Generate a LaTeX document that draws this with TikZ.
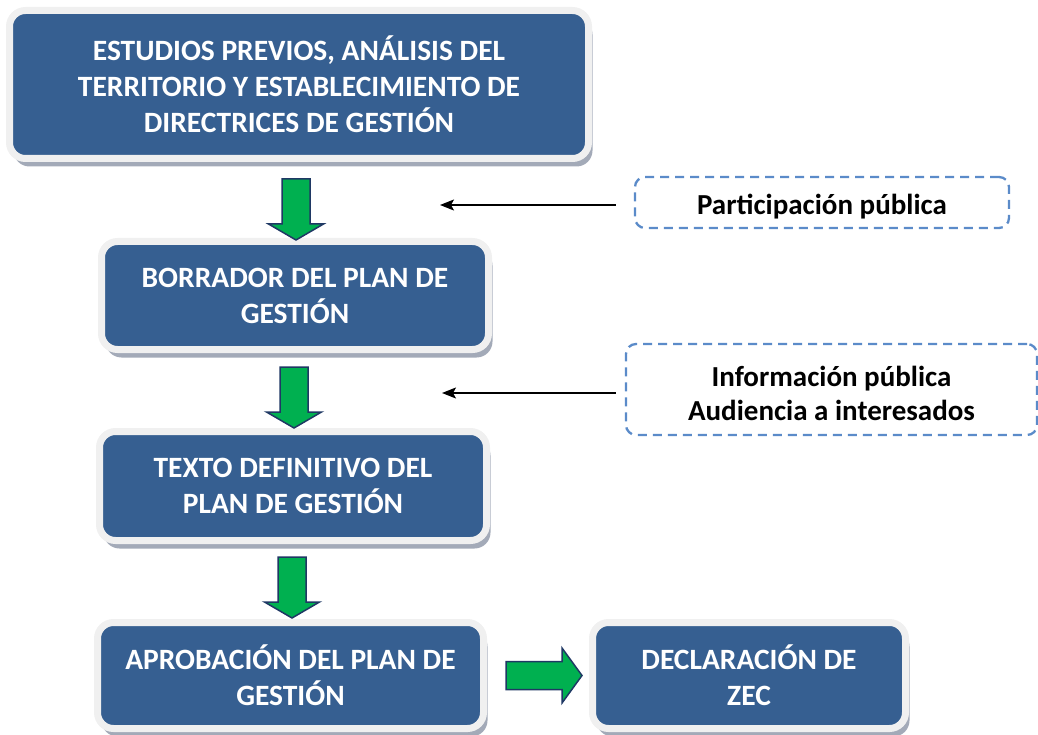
\documentclass[tikz,border=0pt]{standalone}
\usepackage{fontspec}
\setmainfont{Carlito}
\usetikzlibrary{shadows,arrows.meta}
\definecolor{boxblue}{HTML}{365F91}
\definecolor{framegray}{HTML}{F0F0F0}
\definecolor{shadowgray}{HTML}{A3AAB8}
\definecolor{arrowgreen}{HTML}{00B050}
\definecolor{arrowedge}{HTML}{1F3864}
\definecolor{dashblue}{HTML}{5B8BC9}
\newcommand\greendown[3]{% name, center x, top y
  \draw[greenarrow] (#2-14,#3) -- (#2+14,#3) -- (#2+14,#3+45) -- (#2+27.5,#3+45)
     -- (#2,#3+61) -- (#2-27.5,#3+45) -- (#2-14,#3+45) -- cycle;}
\begin{document}
\begin{tikzpicture}[x=1pt,y=-1pt,
  stagebox/.style={draw=framegray, line width=7pt, fill=boxblue, rounded corners=16pt,
    text=white, font=\bfseries\fontsize{29.5}{36}\selectfont, align=center, inner sep=0pt,
    drop shadow={shadow xshift=4pt, shadow yshift=-8pt, fill=shadowgray, opacity=1}},
  notebox/.style={draw=dashblue, line width=2.3pt, dash pattern=on 9pt off 6pt,
    rounded corners=10pt, inner sep=0pt},
  notetext/.style={text=black, font=\bfseries\fontsize{29}{34}\selectfont,
    align=center, inner sep=0pt},
  greenarrow/.style={fill=arrowgreen, draw=arrowedge, line width=1.5pt, line join=miter},
  feed/.style={line width=1.3pt, -{Stealth[length=14pt,width=11pt,inset=3pt]}}]
\useasboundingbox (0,0) rectangle (1038,735);

\node[stagebox, minimum width=579pt, minimum height=148pt] (s1) at (299,84.5)
  {ESTUDIOS PREVIOS, ANÁLISIS DEL\\TERRITORIO Y ESTABLECIMIENTO DE\\DIRECTRICES DE GESTIÓN};
\node[stagebox, minimum width=387pt, minimum height=108pt] (s2) at (295,295.5)
  {BORRADOR DEL PLAN DE\\GESTIÓN};
\node[stagebox, minimum width=387pt, minimum height=109pt] (s3) at (293,486)
  {TEXTO DEFINITIVO DEL\\PLAN DE GESTIÓN};
\node[stagebox, minimum width=386pt, minimum height=106pt] (s4) at (290.5,675.5)
  {APROBACIÓN DEL PLAN DE\\GESTIÓN};
\node[stagebox, minimum width=313pt, minimum height=106pt] (s5) at (749,675.5)
  {DECLARACIÓN DE\\ZEC};

\node[notebox, minimum width=374pt, minimum height=51pt] (p1) at (822,202.5) {};
\node[notetext] (p1t) at ([yshift=-4pt]p1.center) {Participación pública};
\node[notebox, minimum width=411pt, minimum height=91pt] (p2) at (831.5,389.5) {};
\node[notetext] (p2t) at ([yshift=-4pt]p2.center) {Información pública\\Audiencia a interesados};

\coordinate (t1) at (440,205);
\coordinate (t2) at (442,393);
\draw[feed] ([xshift=-18pt]p1.west |- t1) -- (t1);
\draw[feed] ([xshift=-9pt]p2.west |- t2) -- (t2);

\greendown{a1}{296}{179}
\greendown{a2}{294}{367}
\greendown{a3}{292}{557}
\draw[greenarrow] (506,661.5) -- (562,661.5) -- (562,648) -- (582,675.5) -- (562,703)
   -- (562,689.5) -- (506,689.5) -- cycle;
\end{tikzpicture}
\end{document}
